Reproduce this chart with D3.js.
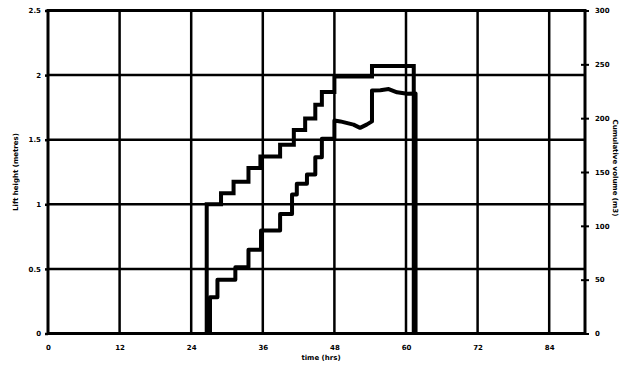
<!DOCTYPE html>
<html>
<head>
<meta charset="utf-8">
<script src="https://cdn.jsdelivr.net/npm/d3@7"></script>
<style>
  body { margin: 0; background: #fff; }
  svg { display: block; }
  text { font-family: "DejaVu Sans", sans-serif; font-weight: bold; fill: #000; }
</style>
</head>
<body>
<div id="chart"></div>
<script>
// x axis: elapsed hours, gridline every 12
const xTicks = [0, 12, 24, 36, 48, 60, 72, 84];
const xTickLabels = ['0', '12', '24', '36', '48', '60', '72', '84'];
const leftTicks = [0, 0.5, 1, 1.5, 2, 2.5];
const leftTickLabels = ['0', '0.5', '1', '1.5', '2', '2.5'];
const rightTicks = [0, 50, 100, 150, 200, 250, 300];

// upper stepped series (left axis)
const upperHours = [26.6, 26.6, 29.0, 29.0, 31.1, 31.1, 33.6, 33.6, 35.6, 35.6, 38.9, 38.9, 41.2, 41.2,
  43.1, 43.1, 44.8, 44.8, 45.9, 45.9, 48.0, 48.0, 54.3, 54.3, 61.3, 61.3];
const upperValues = [0, 1.0, 1.0, 1.085, 1.085, 1.175, 1.175, 1.28, 1.28, 1.37, 1.37, 1.46, 1.46, 1.575,
  1.575, 1.665, 1.665, 1.77, 1.77, 1.87, 1.87, 1.99, 1.99, 2.07, 2.07, 0];

// lower series (right axis)
const lowerHours = [27.15, 27.15, 28.4, 28.4, 31.4, 31.4, 33.6, 33.6, 35.7, 35.7, 38.9, 38.9, 40.9, 40.9,
  41.7, 41.7, 43.4, 43.4, 44.8, 44.8, 45.9, 45.9, 48.0, 48.0, 49.0, 51.2, 52.3, 53.4, 54.3, 54.3,
  55.7, 57.1, 58.5, 60.2, 61.6, 61.6];
const lowerValues = [0, 33.7, 33.7, 50, 50, 61.6, 61.6, 77.7, 77.7, 95.7, 95.7, 111, 111, 129,
  129, 139, 139, 147.7, 147.7, 163.7, 163.7, 180.8, 180.8, 197.8, 197, 194, 191, 194, 197, 225.7,
  226, 227, 224, 222.6, 223, 0];

const width = 623, height = 367;
const x = d3.scaleLinear().domain([0, 90]).range([48, 585]);
const yL = d3.scaleLinear().domain([0, 2.5]).range([333.5, 10.5]);
const yR = d3.scaleLinear().domain([0, 300]).range([333.5, 10.5]);

const svg = d3.select('#chart').append('svg')
  .attr('width', width)
  .attr('height', height);

// grid
const grid = svg.append('g').attr('stroke', '#000').attr('stroke-width', 2.5);
grid.selectAll('line.v')
  .data(xTicks.slice(1))
  .join('line')
  .attr('class', 'v')
  .attr('x1', d => x(d)).attr('x2', d => x(d))
  .attr('y1', yL(2.5)).attr('y2', yL(0));
grid.selectAll('line.h')
  .data(leftTicks.slice(1, -1))
  .join('line')
  .attr('class', 'h')
  .attr('x1', x(0)).attr('x2', x(90))
  .attr('y1', d => yL(d)).attr('y2', d => yL(d));

// frame
svg.append('rect')
  .attr('x', x(0)).attr('y', yL(2.5))
  .attr('width', x(90) - x(0)).attr('height', yL(0) - yL(2.5))
  .attr('fill', 'none').attr('stroke', '#000').attr('stroke-width', 3);

// left axis
const leftAxis = svg.append('g')
  .attr('transform', `translate(${x(0)},0)`)
  .call(d3.axisLeft(yL).tickValues(leftTicks).tickFormat((d, i) => leftTickLabels[i]).tickSize(3).tickPadding(4));
leftAxis.select('.domain').remove();
leftAxis.selectAll('line').attr('stroke-width', 2.5);
leftAxis.selectAll('text').attr('font-size', 7).style('font-family', '"DejaVu Sans", sans-serif').style('font-weight', 'bold');

// right axis
const rightAxis = svg.append('g')
  .attr('transform', `translate(${x(90)},0)`)
  .call(d3.axisRight(yR).tickValues(rightTicks).tickSize(4).tickPadding(6));
rightAxis.select('.domain').remove();
rightAxis.selectAll('.tick line').attr('x1', -4).attr('stroke-width', 2);
rightAxis.selectAll('text').attr('font-size', 7).style('font-family', '"DejaVu Sans", sans-serif').style('font-weight', 'bold');

// bottom labels
const bottomAxis = svg.append('g')
  .attr('transform', `translate(0,${yL(0)})`)
  .call(d3.axisBottom(x).tickValues(xTicks).tickFormat((d, i) => xTickLabels[i]).tickSize(0).tickPadding(12));
bottomAxis.select('.domain').remove();
bottomAxis.selectAll('text').attr('font-size', 7).style('font-family', '"DejaVu Sans", sans-serif').style('font-weight', 'bold');

// series
const lineL = d3.line().x(d => x(d[0])).y(d => yL(d[1]));
const lineR = d3.line().x(d => x(d[0])).y(d => yR(d[1]));

svg.append('path')
  .datum(lowerHours.map((h, i) => [h, lowerValues[i]]))
  .attr('d', lineR)
  .attr('fill', 'none').attr('stroke', '#000').attr('stroke-width', 4)
  .attr('stroke-linejoin', 'round');

svg.append('path')
  .datum(upperHours.map((h, i) => [h, upperValues[i]]))
  .attr('d', lineL)
  .attr('fill', 'none').attr('stroke', '#000').attr('stroke-width', 4)
  .attr('stroke-linejoin', 'miter');

// titles
svg.append('text')
  .attr('x', 321).attr('y', 360)
  .attr('text-anchor', 'middle').attr('font-size', 7)
  .text('time (hrs)');

svg.append('text')
  .attr('transform', 'translate(18,172) rotate(-90)')
  .attr('text-anchor', 'middle').attr('font-size', 7)
  .text('Lift height (metres)');

svg.append('text')
  .attr('transform', 'translate(613,168) rotate(90)')
  .attr('text-anchor', 'middle').attr('font-size', 7)
  .text('Cumulative volume (m3)');
</script>
</body>
</html>
